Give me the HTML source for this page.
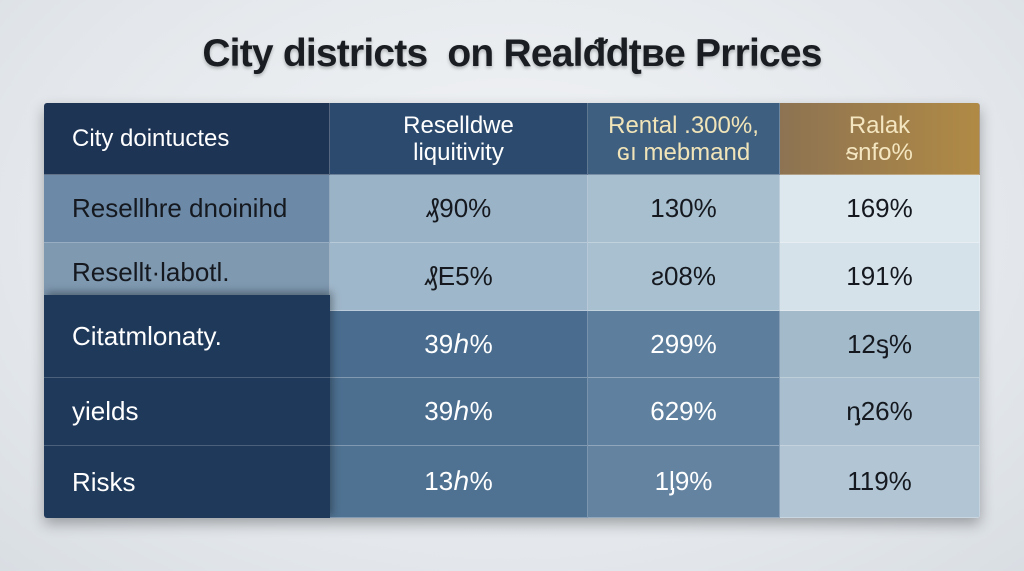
<!DOCTYPE html>
<html><head><meta charset="utf-8"><style>
*{margin:0;padding:0;box-sizing:border-box}
body{width:1024px;height:571px;overflow:hidden;background:radial-gradient(ellipse at 50% 40%,#f2f4f6 0%,#e3e7eb 70%,#d9dee3 100%);font-family:"Liberation Sans",sans-serif;position:relative}
.title{position:absolute;left:0;width:1024px;top:32px;text-align:center;font-size:39px;font-weight:bold;color:#1a1d22;letter-spacing:-0.8px;text-shadow:0 2px 3px rgba(0,0,0,0.25)}
.tbl{position:absolute;left:44px;top:103px;width:936px;height:415px;box-shadow:0 6px 14px rgba(0,0,0,0.3);border-radius:3px;overflow:hidden}
.c{position:absolute;display:flex;align-items:center;justify-content:center;font-size:26px;color:#15191f;border-right:1px solid rgba(255,255,255,0.25);border-bottom:1px solid rgba(255,255,255,0.3)}
.l{justify-content:flex-start;padding-left:28px}
.w{color:#fff}
.h{font-size:24px;line-height:27px;text-align:center}
</style></head><body>
<div class="title">City districts &nbsp;on Realᵭdʈʙe Prrices</div>
<div class="tbl">
<div class="c l w" style="left:0;top:0;width:286px;height:72px;background:#1d3455;font-size:24px">City dointuctes</div>
<div class="c w h" style="left:286px;top:0;width:258px;height:72px;background:#2b4a6d">Reselldwe<br>liquitivity</div>
<div class="c h" style="left:544px;top:0;width:192px;height:72px;background:#3e5f80;color:#f1e4b8">Rental .300%,<br>ɢı mebmand</div>
<div class="c h" style="left:736px;top:0;width:200px;height:72px;background:linear-gradient(90deg,#8d7352,#b08a45);color:#f4e6c0">Ralak<br>ᵴnfo%</div>
<div class="c l" style="left:0;top:72px;width:286px;height:68px;background:#6c8aa7">Resellhre dnoinihd</div>
<div class="c" style="left:286px;top:72px;width:258px;height:68px;background:#9ab3c7">₰90%</div>
<div class="c" style="left:544px;top:72px;width:192px;height:68px;background:#a8bfcf">130%</div>
<div class="c" style="left:736px;top:72px;width:200px;height:68px;background:#dde7ee">169%</div>
<div class="c l" style="left:0;top:140px;width:286px;height:68px;background:#7f99b1;align-items:flex-start;padding-top:14px">Resellt·labotl.</div>
<div class="c" style="left:286px;top:140px;width:258px;height:68px;background:#9fb7ca">₰E5%</div>
<div class="c" style="left:544px;top:140px;width:192px;height:68px;background:#a9c0d0">ƨ08%</div>
<div class="c" style="left:736px;top:140px;width:200px;height:68px;background:#d6e2ea">191%</div>
<div class="c w" style="left:286px;top:208px;width:258px;height:67px;background:#4a6d8f">39ℎ%</div>
<div class="c w" style="left:544px;top:208px;width:192px;height:67px;background:#5d7e9d">299%</div>
<div class="c" style="left:736px;top:208px;width:200px;height:67px;background:#a3bacb">12ᶊ%</div>
<div class="c w" style="left:286px;top:275px;width:258px;height:68px;background:#4c6f90">39ℎ%</div>
<div class="c w" style="left:544px;top:275px;width:192px;height:68px;background:#5f809f">629%</div>
<div class="c" style="left:736px;top:275px;width:200px;height:68px;background:#a9bfcf">ᶇ26%</div>
<div class="c w" style="left:286px;top:343px;width:258px;height:72px;background:#4f7292">13ℎ%</div>
<div class="c w" style="left:544px;top:343px;width:192px;height:72px;background:#6383a1">1ᶅ9%</div>
<div class="c" style="left:736px;top:343px;width:200px;height:72px;background:#b1c5d4">119%</div>
<div style="position:absolute;left:0;top:192px;width:286px;height:223px;background:#1f395a;box-shadow:2px -3px 8px rgba(0,0,0,0.35)"></div>
<div class="c l w" style="left:0;top:192px;width:286px;height:83px;border:none;border-bottom:1px solid rgba(255,255,255,0.2)">Citatmlonaty.</div>
<div class="c l w" style="left:0;top:275px;width:286px;height:68px;border:none;border-bottom:1px solid rgba(255,255,255,0.2)">yields</div>
<div class="c l w" style="left:0;top:343px;width:286px;height:72px;border:none">Risks</div>
</div>
</body></html>
